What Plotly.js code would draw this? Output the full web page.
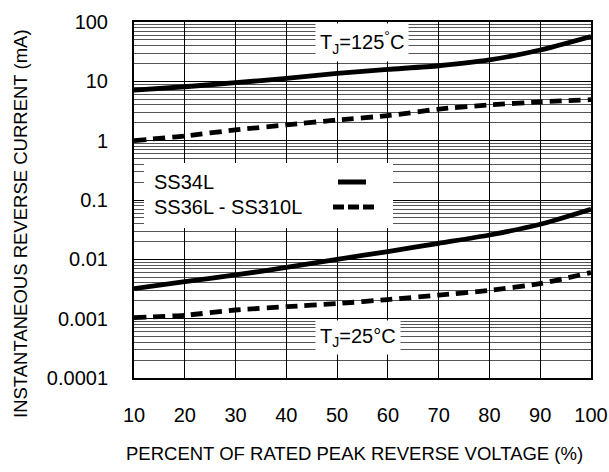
<!DOCTYPE html>
<html>
<head>
<meta charset="utf-8">
<script src="https://cdn.plot.ly/plotly-3.0.1.min.js"></script>
<style>html,body{margin:0;padding:0;background:#fff;}#chart{width:609px;height:472px;}</style>
</head>
<body>
<div id="chart"></div>
<script>
// Percent of rated peak reverse voltage (%)
const voltagePct = [10, 20, 30, 40, 50, 60, 70, 80, 90, 100];
// Instantaneous reverse current (mA)
const ss34L_125 = [7.1, 8.1, 9.5, 11.2, 13.6, 15.9, 18.3, 22.9, 33.7, 57];
const ss36L_125 = [1.0, 1.2, 1.52, 1.84, 2.23, 2.64, 3.4, 4.0, 4.5, 4.9];
const ss34L_25 = [0.0032, 0.0042, 0.00545, 0.0073, 0.010, 0.0135, 0.0186, 0.0257, 0.039, 0.07];
const ss36L_25 = [0.00104, 0.00114, 0.0014, 0.00159, 0.0018, 0.0021, 0.0025, 0.0030, 0.0039, 0.006];
const yTickVals = [100, 10, 1, 0.1, 0.01, 0.001, 0.0001];
const yTickText = ["100", "10", "1", "0.1", "0.01", "0.001", "0.0001"];
const xTickVals = [10, 20, 30, 40, 50, 60, 70, 80, 90, 100];
const seriesNames = ["SS34L", "SS36L - SS310L"];

const minorVals = [];
for (let e = -4; e < 2; e++) for (let m = 2; m <= 9; m++) minorVals.push(m * Math.pow(10, e));

const FONT = "Liberation Sans, Arial, sans-serif";
const solid = {color: "#000", width: 4.8, shape: "spline", smoothing: 0.6};
const dashed = {color: "#000", width: 4.8, dash: "12px,7px", shape: "spline", smoothing: 0.6};

const traces = [
  {x: voltagePct, y: ss34L_125, mode: "lines", line: solid, name: seriesNames[0]},
  {x: voltagePct, y: ss36L_125, mode: "lines", line: dashed, name: seriesNames[1]},
  {x: voltagePct, y: ss34L_25, mode: "lines", line: solid, name: seriesNames[0]},
  {x: voltagePct, y: ss36L_25, mode: "lines", line: dashed, name: seriesNames[1]}
];

const px = v => (v - 134) / 457;
const py = v => (378 - v) / 356;
const ann = (text, x, y, size, extra) => Object.assign({
  text: text, xref: "paper", yref: "paper", x: px(x), y: py(y),
  xanchor: "center", yanchor: "middle", showarrow: false,
  font: {family: FONT, size: size, color: "#000"}
}, extra || {});

const layout = {
  width: 609, height: 472,
  margin: {l: 134, r: 18, t: 22, b: 94},
  paper_bgcolor: "#fff", plot_bgcolor: "#fff",
  showlegend: false,
  font: {family: FONT, color: "#000", size: 20},
  xaxis: {
    range: [10, 100], tickvals: xTickVals, ticks: "", showgrid: true,
    gridcolor: "#000", gridwidth: 1, zeroline: false,
    showline: true, linecolor: "#000", linewidth: 2, mirror: true,
    ticklabelstandoff: 18, tickfont: {family: FONT, size: 20, color: "#000"}
  },
  yaxis: {
    type: "log", range: [-4, 2], tickvals: yTickVals, ticktext: yTickText,
    ticks: "", showgrid: true, gridcolor: "#000", gridwidth: 1, zeroline: false,
    showline: true, linecolor: "#000", linewidth: 2, mirror: true,
    ticklabelstandoff: 20, tickfont: {family: FONT, size: 20, color: "#000"},
    minor: {tickvals: minorVals, showgrid: true, gridcolor: "#555", gridwidth: 1, ticks: ""}
  },
  shapes: [
    {type: "rect", xref: "paper", yref: "paper", x0: px(144), x1: px(393), y0: py(228), y1: py(163),
     fillcolor: "#fff", line: {width: 0}, layer: "above"},
    {type: "line", xref: "paper", yref: "paper", x0: px(338), x1: px(366), y0: py(182), y1: py(182),
     line: {color: "#000", width: 5}},
    {type: "line", xref: "paper", yref: "paper", x0: px(333), x1: px(374), y0: py(207), y1: py(207),
     line: {color: "#000", width: 5, dash: "11px,4px"}}
  ],
  annotations: [
    ann("T<sub>J</sub>=125<sup>°</sup>C", 362, 43, 20, {bgcolor: "#fff", borderpad: 4}),
    ann("T<sub>J</sub>=25°C", 358, 337, 20, {bgcolor: "#fff", borderpad: 4}),
    ann(seriesNames[0], 152, 182, 20, {xanchor: "left"}),
    ann(seriesNames[1], 152, 207, 20, {xanchor: "left"}),
    ann("PERCENT OF RATED PEAK REVERSE VOLTAGE (%)", 354, 453, 18.5),
    ann("INSTANTANEOUS REVERSE CURRENT (mA)", 21, 224, 18.5, {textangle: -90})
  ]
};

Plotly.newPlot("chart", traces, layout, {displayModeBar: false});
</script>
</body>
</html>
